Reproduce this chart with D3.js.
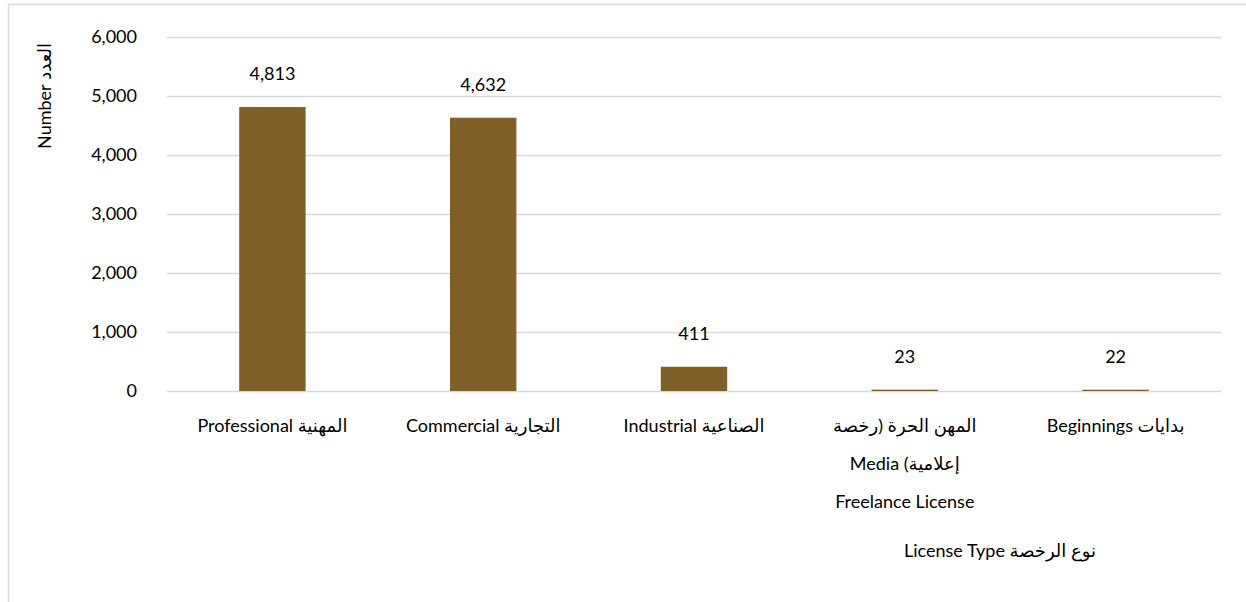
<!DOCTYPE html>
<html><head><meta charset="utf-8">
<script src="https://cdn.jsdelivr.net/npm/d3@7"></script>
<style>body{margin:0;background:#fff}svg{display:block}text{font-family:Lato,"Noto Sans","DejaVu Sans",sans-serif;fill:#000}</style>
</head><body><svg id="c" width="1246" height="602"></svg>
<script>
const categories = [
  ["المهنية Professional"],
  ["التجارية Commercial"],
  ["الصناعية Industrial"],
  ["المهن الحرة (رخصة", "إعلامية)  Media", "Freelance License"],
  ["بدايات Beginnings"]
];
const values = [4813, 4632, 411, 23, 22];
const yTicks = [0, 1000, 2000, 3000, 4000, 5000, 6000];
const yTitle = "العدد Number";
const xTitle = "نوع الرخصة License Type";

const svg = d3.select("#c");
svg.append("path").attr("d","M8.5,602 V4.5 H1246").attr("fill","none").attr("stroke","#d9d9d9").attr("stroke-width",1.5);

const x = d3.scaleBand().domain(d3.range(values.length)).range([167,1221]).paddingInner(0.685).paddingOuter(0.3425);
const y = d3.scaleLinear().domain([0,6000]).range([391,37]);

svg.append("g").selectAll("line").data(yTicks).join("line")
  .attr("x1",167).attr("x2",1221).attr("y1",d=>Math.round(y(d))+0.5).attr("y2",d=>Math.round(y(d))+0.5)
  .attr("stroke","#d9d9d9").attr("stroke-width",1.3);

const fmt = d3.format(",");
svg.append("g").selectAll("text").data(yTicks).join("text")
  .attr("x",137).attr("y",d=>y(d)).attr("dy","0.35em").attr("text-anchor","end")
  .attr("font-size",18).text(d=>fmt(d));

svg.append("g").selectAll("rect").data(values).join("rect")
  .attr("x",(d,i)=>x(i)).attr("width",x.bandwidth())
  .attr("y",d=>y(d)).attr("height",d=>y(0)-y(d))
  .attr("fill","#7f6029");

svg.append("g").selectAll("text").data(values).join("text")
  .attr("x",(d,i)=>x(i)+x.bandwidth()/2).attr("y",d=>y(d)-33).attr("dy","0.35em")
  .attr("text-anchor","middle").attr("font-size",18).text(d=>fmt(d));

const xl = svg.append("g").selectAll("text").data(categories).join("text")
  .attr("x",(d,i)=>x(i)+x.bandwidth()/2).attr("y",432).attr("text-anchor","middle").attr("font-size",18);
xl.selectAll("tspan").data(d=>d).join("tspan")
  .attr("x",function(){return this.parentNode.getAttribute("x");})
  .attr("dy",(d,i)=>i===0?0:38).attr("direction","rtl").attr("unicode-bidi","plaintext").text(d=>d);

svg.append("text").attr("x",1000).attr("y",557).attr("text-anchor","middle").attr("font-size",18).attr("direction","rtl").attr("unicode-bidi","plaintext").text(xTitle);
svg.append("text").attr("transform","translate(45,96) rotate(-90)").attr("dy","0.35em").attr("text-anchor","middle").attr("font-size",18).attr("direction","rtl").attr("unicode-bidi","plaintext").text(yTitle);
</script></body></html>
